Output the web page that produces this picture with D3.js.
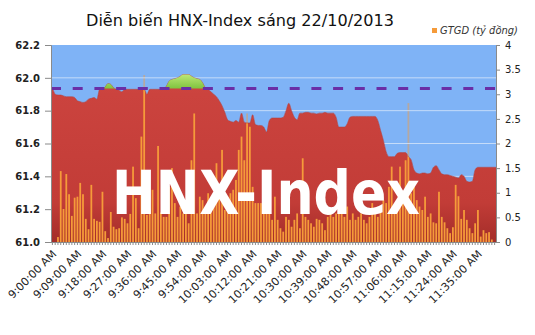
<!DOCTYPE html>
<html>
<head>
<meta charset="utf-8">
<script src="https://cdn.jsdelivr.net/npm/d3@7"></script>
<style>
html,body{margin:0;padding:0;background:#fff;}
svg{display:block;}
</style>
</head>
<body>
<svg id="chart" width="535" height="335"></svg>
<script>
// ---------- DATA ----------
const title = "Diễn biến HNX-Index sáng 22/10/2013";
const legendLabel = "GTGD (tỷ đồng)";
const watermark = "HNX-Index";
const referenceLevel = 61.935;

// categories: one per minute from 9:00, with a two-minute gap after 11:30
const startMinute = 9 * 60;
const categoryCount = 160;
const gapAfterIndex = 150, gapMinutes = 2;
const categories = d3.range(categoryCount).map(i => {
  const m = startMinute + i + (i > gapAfterIndex ? gapMinutes : 0);
  const h = Math.floor(m / 60), mm = m % 60;
  return `${h}:${String(mm).padStart(2, "0")}:00 AM`;
});
const labelEvery = 9;

const indexValues = [
  61.93,61.90,61.895,61.895,61.89,61.885,61.885,61.885,61.88,61.86,
  61.855,61.85,61.855,61.87,61.875,61.88,61.87,61.93,61.93,61.945,
  61.965,61.96,61.94,61.93,61.925,61.915,61.93,61.93,61.93,61.93,
  61.93,61.93,61.93,61.93,61.90,61.93,61.93,61.93,61.93,61.93,
  61.93,61.95,61.98,61.99,61.995,62.0,62.01,62.02,62.02,62.02,
  62.01,62.0,61.995,61.99,61.97,61.94,61.93,61.915,61.90,61.885,
  61.86,61.83,61.79,61.745,61.735,61.73,61.74,61.73,61.785,61.73,
  61.725,61.725,61.775,61.715,61.71,61.71,61.70,61.67,61.74,61.755,
  61.755,61.755,61.755,61.76,61.80,61.845,61.80,61.76,61.745,61.785,
  61.785,61.79,61.79,61.785,61.785,61.78,61.785,61.785,61.79,61.785,
  61.785,61.785,61.76,61.70,61.70,61.70,61.72,61.76,61.765,61.765,
  61.765,61.765,61.765,61.765,61.765,61.765,61.765,61.74,61.68,61.62,
  61.55,61.52,61.52,61.52,61.54,61.545,61.545,61.545,61.52,61.50,
  61.44,61.42,61.415,61.42,61.42,61.415,61.42,61.455,61.465,61.44,
  61.415,61.41,61.41,61.405,61.40,61.395,61.39,61.41,61.40,61.37,
  61.365,61.37,61.44,61.455,61.455,61.455,61.455,61.455,61.455,61.455
];

const volumeValues = [
  0,0,0.10,1.44,0.67,1.38,0.97,0.53,0.90,0.92,
  1.20,0.97,0.47,0.26,1.16,0.47,0.43,0.41,1.02,0.22,
  0.08,0.61,0.31,0.26,0.28,0.50,0.47,0.38,0.57,1.53,
  0.89,0.28,2.14,3.39,0.55,0.68,1.06,0.58,1.95,0.60,
  0.51,0.51,1.12,1.50,0.79,0.51,0.72,0.58,0.85,0.38,
  1.66,2.61,0.58,0.92,0.85,0.58,0.99,0.79,0.72,1.60,
  0.99,1.87,0.65,0.92,0.99,1.06,1.26,1.87,2.14,1.66,
  2.61,2.34,1.12,0.79,0.79,0.79,1.06,1.12,0.85,0.45,
  0.92,0.45,0.28,0.21,0.51,0.45,0.31,0.45,0.58,0.28,
  1.70,0.51,0.45,0.38,0.31,0.47,0.45,0.38,0.24,0.51,
  0.58,0.51,0.58,0.65,0.58,0.51,0.72,0.45,0.58,0.45,
  0.51,0.58,0.45,0.38,0.51,0.79,0.58,0.51,0.72,0.85,
  0.79,1.12,1.53,0.65,0.85,1.53,0.99,1.66,2.82,0.99,
  1.12,0.85,0.72,0.65,0.92,0.51,0.58,0.40,0.38,1.02,
  0.51,0.40,0.28,0.18,0.30,1.16,0.93,0.47,0.65,0.45,
  0.28,0.18,0.38,0.65,0.11,0.24,0.18,0.20,0.05,0
];

const leftTicks = [61.0, 61.2, 61.4, 61.6, 61.8, 62.0, 62.2];
const rightTicks = [0, 0.5, 1, 1.5, 2, 2.5, 3, 3.5, 4];

// ---------- LAYOUT ----------
const svg = d3.select("#chart");
const L = 51, R = 496, T = 45, B = 242;
const FONT = "'DejaVu Sans', Verdana, sans-serif";

const x = d3.scaleBand().domain(d3.range(categoryCount)).range([L, R]).paddingInner(0.36).paddingOuter(0.18);
const xc = i => x(i) + x.bandwidth() / 2;
const xa = d3.scaleLinear().domain([-0.5, categoryCount - 0.5]).range([L, R]);
const yL = d3.scaleLinear().domain([61.0, 62.2]).range([B, T]);
const yR = d3.scaleLinear().domain([0, 4]).range([B, T]);

const defs = svg.append("defs");
const rg = defs.append("linearGradient").attr("id", "redGrad")
  .attr("gradientUnits", "userSpaceOnUse").attr("x1", 0).attr("y1", T).attr("x2", 0).attr("y2", B);
[[0, "#d64c46"], [0.25, "#cb433e"], [0.8, "#c23c37"], [1, "#a32d29"]].forEach(([o, c]) =>
  rg.append("stop").attr("offset", o).attr("stop-color", c));
const gg = defs.append("linearGradient").attr("id", "greenGrad")
  .attr("gradientUnits", "userSpaceOnUse").attr("x1", 0).attr("y1", yL(62.03)).attr("x2", 0).attr("y2", yL(referenceLevel));
[[0, "#c3ea7c"], [1, "#7fc43f"]].forEach(([o, c]) =>
  gg.append("stop").attr("offset", o).attr("stop-color", c));

// extended points so the area spans the full plot width
const pts = [{i: -0.5, v: indexValues[0]}]
  .concat(indexValues.map((v, i) => ({i, v})))
  .concat([{i: categoryCount - 0.5, v: indexValues[categoryCount - 1]}]);

// background
svg.append("rect").attr("x", L).attr("y", T).attr("width", R - L).attr("height", B - T).attr("fill", "#7fb3f5");

// red index area
const redArea = d3.area().x(d => xa(d.i)).y0(B).y1(d => yL(d.v)).curve(d3.curveMonotoneX);
svg.append("path").datum(pts).attr("d", redArea).attr("fill", "url(#redGrad)");

// volume bars
svg.append("g").selectAll("rect").data(volumeValues).join("rect")
  .attr("x", (d, i) => x(i)).attr("width", x.bandwidth())
  .attr("y", d => yR(d)).attr("height", d => B - yR(d))
  .attr("fill", "#f59b3a");

// sky overlay (above the index line) mutes bars that rise above the area
const skyArea = d3.area().x(d => xa(d.i)).y0(T).y1(d => yL(d.v)).curve(d3.curveMonotoneX);
defs.append("clipPath").attr("id", "skyClip").append("path").datum(pts).attr("d", skyArea);
svg.append("path").datum(pts).attr("d", skyArea).attr("fill", "#7fb3f5").attr("opacity", 0.55);

// gridlines visible only in the sky
svg.append("g").attr("clip-path", "url(#skyClip)").selectAll("line")
  .data(leftTicks.slice(1, -1)).join("line")
  .attr("x1", L).attr("x2", R).attr("y1", d => yL(d)).attr("y2", d => yL(d))
  .attr("stroke", "#d7e6fb").attr("stroke-width", 1).attr("opacity", 0.8);

// subtle top edge of the index area
const topLine = d3.line().x(d => xa(d.i)).y(d => yL(d.v)).curve(d3.curveMonotoneX);
svg.append("path").datum(pts).attr("d", topLine).attr("fill", "none")
  .attr("stroke", "#b8403b").attr("stroke-width", 1).attr("opacity", 0.6);

// green area above reference
const greenArea = d3.area().x(d => xa(d.i)).y0(yL(referenceLevel))
  .y1(d => yL(Math.max(d.v, referenceLevel))).curve(d3.curveMonotoneX);
svg.append("path").datum(pts).attr("d", greenArea).attr("fill", "url(#greenGrad)");

// reference dashed line
svg.append("line").attr("x1", L).attr("x2", R)
  .attr("y1", yL(referenceLevel)).attr("y2", yL(referenceLevel))
  .attr("stroke", "#6a2ea6").attr("stroke-width", 3.2).attr("stroke-dasharray", "10,11.7");

// watermark
svg.append("text").text(watermark)
  .attr("x", 112).attr("y", 214).attr("font-family", FONT).attr("font-weight", "bold")
  .attr("font-size", 60).attr("fill", "#ffffff")
  .attr("textLength", 308).attr("lengthAdjust", "spacingAndGlyphs");

// axes
const axisColor = "#8a8a8a";
const leftAxis = svg.append("g").attr("transform", `translate(${L},0)`)
  .call(d3.axisLeft(yL).tickValues(leftTicks).tickFormat(d3.format(".1f")).tickSize(6).tickPadding(5));
leftAxis.selectAll("text").attr("font-family", FONT).attr("font-size", 10).attr("font-weight", "bold").attr("fill", "#222");

const rightAxis = svg.append("g").attr("transform", `translate(${R},0)`)
  .call(d3.axisRight(yR).tickValues(rightTicks).tickFormat(d3.format("")).tickSize(4).tickPadding(5));
rightAxis.selectAll("text").attr("font-family", FONT).attr("font-size", 10).attr("fill", "#222");

const bottomAxis = svg.append("g").attr("transform", `translate(0,${B})`)
  .call(d3.axisBottom(x).tickSize(3).tickFormat(""));
[leftAxis, rightAxis, bottomAxis].forEach(g => {
  g.selectAll("line").attr("stroke", axisColor);
  g.select(".domain").attr("stroke", axisColor);
});
bottomAxis.select(".domain").attr("d", `M${L},0.5H${R}`);

// rotated category labels
svg.append("g").selectAll("text")
  .data(categories.map((c, i) => ({c, i})).filter(d => d.i % labelEvery === 0))
  .join("text")
  .attr("transform", d => `translate(${xc(d.i) + 2},${B + 10}) rotate(-45)`)
  .attr("text-anchor", "end").attr("dy", "0.35em")
  .attr("font-family", FONT).attr("font-size", 11).attr("fill", "#222")
  .text(d => d.c);

// title
svg.append("text").text(title).attr("x", 86).attr("y", 26)
  .attr("font-family", FONT).attr("font-size", 16.5).attr("fill", "#111")
  .attr("textLength", 308).attr("lengthAdjust", "spacingAndGlyphs");

// legend
svg.append("rect").attr("x", 432).attr("y", 28).attr("width", 5).attr("height", 5).attr("fill", "#f59b3a");
svg.append("text").text(legendLabel).attr("x", 440).attr("y", 34)
  .attr("font-family", FONT).attr("font-size", 10).attr("font-style", "italic").attr("fill", "#333")
  .attr("textLength", 78).attr("lengthAdjust", "spacingAndGlyphs");
</script>
</body>
</html>
